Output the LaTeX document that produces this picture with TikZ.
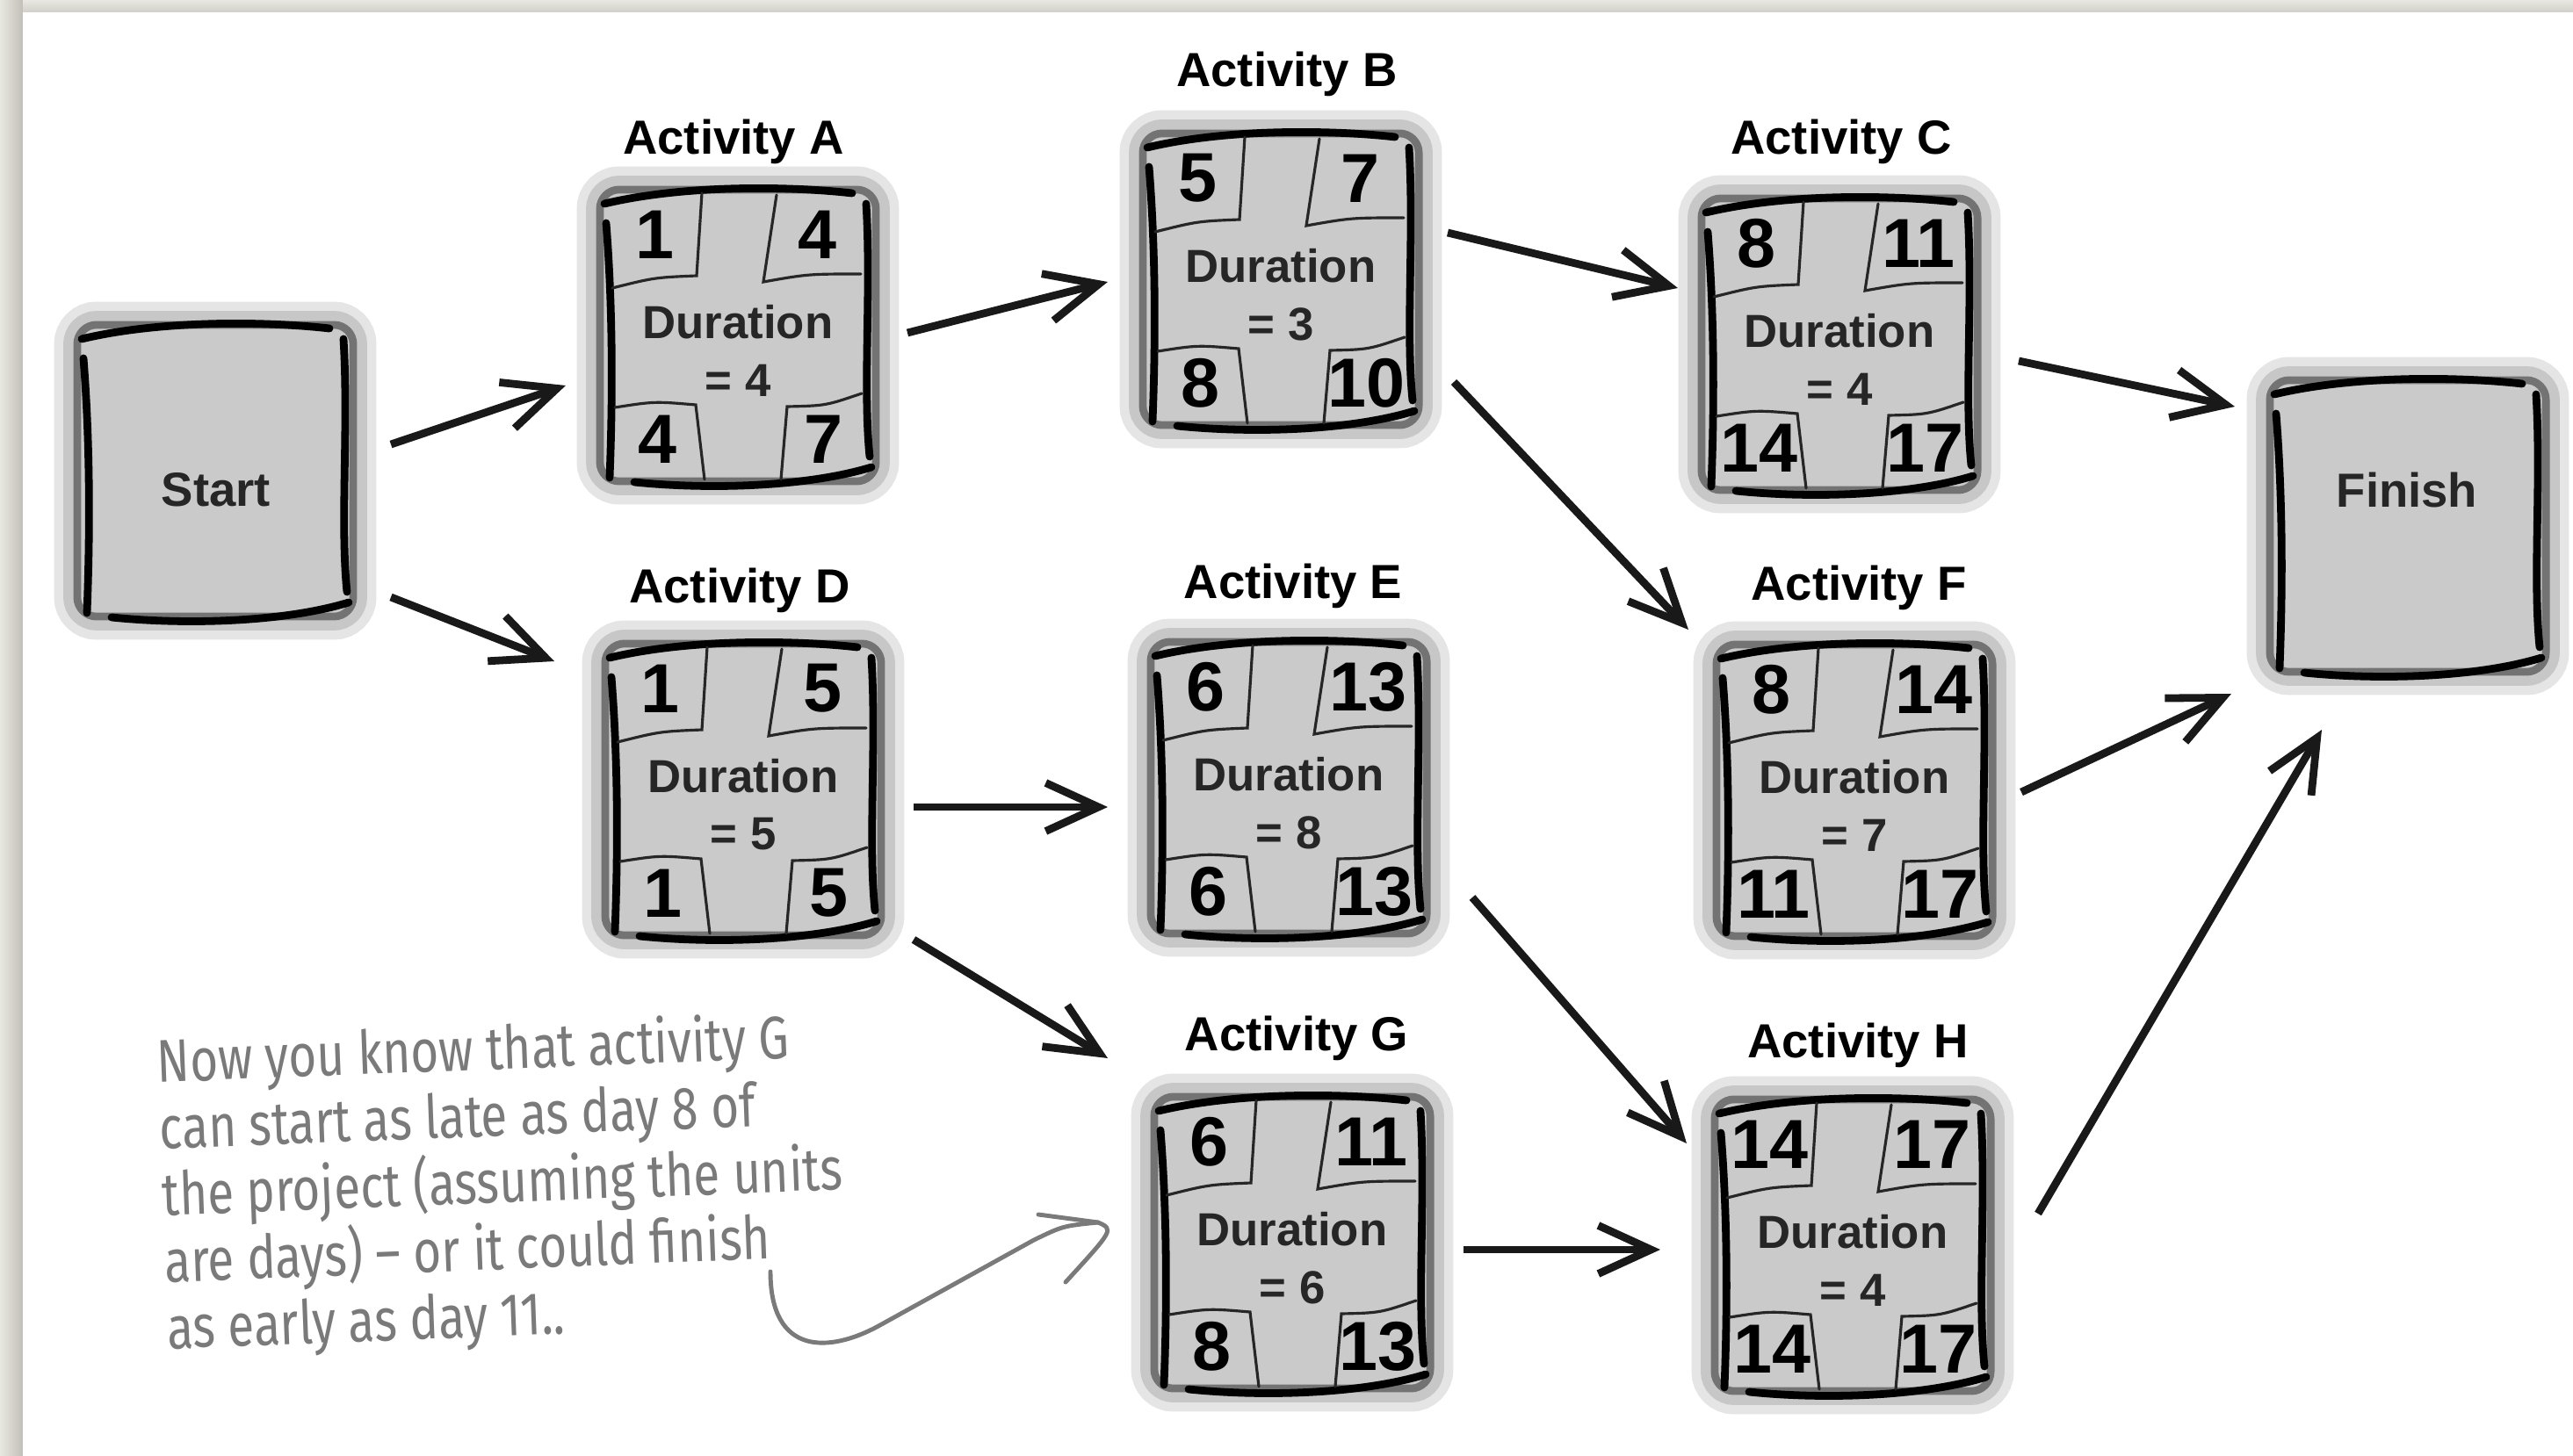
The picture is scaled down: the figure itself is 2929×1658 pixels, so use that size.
\documentclass[tikz,border=0pt]{standalone}
\usepackage{fontspec}
\setmainfont{Liberation Sans}
\newfontfamily\handfont[FakeStretch=0.8]{Fira Sans}
\usetikzlibrary{calc,arrows.meta}
\definecolor{beige}{HTML}{E9E7E1}
\definecolor{beigedark}{HTML}{C2BFB8}
\definecolor{boxgray}{HTML}{CACACA}
\definecolor{handgray}{HTML}{7A7A7A}
\tikzset{
  sketchnode/.style={minimum width=3.14cm, minimum height=3.32cm, fill=boxgray, rounded corners=0.22cm,
    draw=black!55, line width=2.5pt,
    preaction={draw=black!10, line width=15pt, rounded corners=0.22cm},
    preaction={draw=black!22, line width=9pt, rounded corners=0.22cm}},
  sk/.style={line width=2.5pt, line cap=round, black},
  notch/.style={line width=0.9pt, black!85, line cap=round},
  lab/.style={font=\fontsize{15.5pt}{18pt}\selectfont\bfseries, inner sep=0pt},
  endtxt/.style={font=\fontsize{15.5pt}{18pt}\selectfont\bfseries, inner sep=0pt, text=black!85},
  num/.style={font=\fontsize{22.5pt}{24pt}\selectfont\bfseries, inner sep=0pt},
  dur/.style={font=\fontsize{15pt}{17pt}\selectfont\bfseries, inner sep=0pt, text=black!85},
  arr/.style={line width=2.5pt, black!90, -{Straight Barb[length=0.6cm,width=0.55cm]}},
  notearr/.style={line width=1.4pt, handgray, line cap=round, line join=round},
  note/.style={font=\handfont\fontsize{19.5pt}{21.6pt}\selectfont, text=handgray, align=left, inner sep=0pt}
}
\newcommand{\sketchbox}[1]{%
  \draw[sk] ($(#1)+(-150,-128)$) .. controls ($(#1)+(-143,-40)$) and ($(#1)+(-142,60)$) .. ($(#1)+(-146,162)$);
  \draw[sk] ($(#1)+(-152,-150)$) .. controls ($(#1)+(-60,-172)$) and ($(#1)+(60,-170)$) .. ($(#1)+(130,-162)$);
  \draw[sk] ($(#1)+(146,-150)$) .. controls ($(#1)+(152,-50)$) and ($(#1)+(142,60)$) .. ($(#1)+(150,138)$);
  \draw[sk] ($(#1)+(-118,167)$) .. controls ($(#1)+(-30,176)$) and ($(#1)+(80,172)$) .. ($(#1)+(152,150)$);
}
\newcommand{\notches}[1]{%
  \draw[notch] ($(#1)+(-41,-162)$) -- ($(#1)+(-47,-68)$) .. controls ($(#1)+(-95,-66)$) .. ($(#1)+(-143,-54)$);
  \draw[notch] ($(#1)+(44,-160)$) -- ($(#1)+(29,-61)$) .. controls ($(#1)+(80,-70)$) .. ($(#1)+(140,-70)$);
  \draw[notch] ($(#1)+(-140,82)$) .. controls ($(#1)+(-95,75)$) .. ($(#1)+(-48,79)$) -- ($(#1)+(-38,164)$);
  \draw[notch] ($(#1)+(141,66)$) .. controls ($(#1)+(100,80)$) .. ($(#1)+(56,81)$) -- ($(#1)+(49,164)$);
}
\newcommand{\actnums}[6]{%
  \node[num] (#1-es) at ($(#1)+(-95,-115)$) {#2};
  \node[num] (#1-ef) at ($(#1)+(90,-115)$) {#3};
  \node[num] (#1-ls) at ($(#1)+(-92,118)$) {#4};
  \node[num] (#1-lf) at ($(#1)+(97,118)$) {#5};
  \node[dur] (#1-d) at ($(#1)+(0,-15)$) {Duration};
  \node[dur] (#1-n) at ($(#1)+(0,51)$) {= #6};
}
\begin{document}
\begin{tikzpicture}[x=0.01cm, y=-0.01cm]
\useasboundingbox (0,0) rectangle (2929,1658);
% background
\fill[beige] (0,0) rectangle (2929,1658);
\shade[left color=beige, right color=beigedark] (0,0) rectangle (26,1658);
\shade[top color=beige, bottom color=beigedark!60!beige] (26,0) rectangle (2929,14);
\fill[white] (26,14) rectangle (2929,1658);

% boxes
\node[sketchnode] (Start) at (245,536) {};
\node[sketchnode] (Finish) at (2741,599) {};
\node[sketchnode] (A) at (840,382) {};
\node[sketchnode] (B) at (1458,318) {};
\node[sketchnode] (C) at (2094,392) {};
\node[sketchnode] (D) at (846,899) {};
\node[sketchnode] (E) at (1467,897) {};
\node[sketchnode] (F) at (2111,900) {};
\node[sketchnode] (G) at (1471,1415) {};
\node[sketchnode] (H) at (2109,1418) {};

\foreach \n in {Start,Finish,A,B,C,D,E,F,G,H} {\sketchbox{\n}}
\foreach \n in {A,B,C,D,E,F,G,H} {\notches{\n}}

\node[endtxt] (Start-t) at (246,558) {Start};
\node[endtxt] (Finish-t) at (2740,558) {Finish};

\actnums{A}{1}{4}{4}{7}{4}
\actnums{B}{5}{7}{8}{10}{3}
\actnums{C}{8}{11}{14}{17}{4}
\actnums{D}{1}{5}{1}{5}{5}
\actnums{E}{6}{13}{6}{13}{8}
\actnums{F}{8}{14}{11}{17}{7}
\actnums{G}{6}{11}{8}{13}{6}
\actnums{H}{14}{17}{14}{17}{4}

% activity labels
\node[lab] (A-lab) at (835,161) {Activity A};
\node[lab] (B-lab) at (1465,84) {Activity B};
\node[lab] (C-lab) at (2096,161) {Activity C};
\node[lab] (D-lab) at (842,672) {Activity D};
\node[lab] (E-lab) at (1472,667) {Activity E};
\node[lab] (F-lab) at (2116,669) {Activity F};
\node[lab] (G-lab) at (1476,1182) {Activity G};
\node[lab] (H-lab) at (2115,1190) {Activity H};

% connectors
\draw[arr] ($(Start)+(200,-30)$) -- ($(A)+(-196,57)$);
\draw[arr] ($(Start)+(200,144)$) -- ($(D)+(-215,-146)$);
\draw[arr] ($(A)+(193,-3)$) -- ($(B)+(-197,3)$);
\draw[arr] ($(B)+(190,-53)$) -- ($(C)+(-184,-64)$);
\draw[arr] ($(B)+(197,117)$) -- ($(F)+(-189,-183)$);
\draw[arr] ($(C)+(204,19)$) -- ($(Finish)+(-197,-136)$);
\draw[arr] ($(D)+(194,20)$) -- ($(E)+(-206,22)$);
\draw[arr] ($(D)+(194,171)$) -- ($(G)+(-210,-210)$);
\draw[arr] ($(E)+(209,125)$) -- ($(H)+(-189,-116)$);
\draw[arr] ($(F)+(190,2)$) -- ($(Finish)+(-201,191)$);
\draw[arr] ($(G)+(195,8)$) -- ($(H)+(-219,5)$);
\draw[arr] ($(H)+(211,-36)$) -- ($(Finish)+(-98,232)$);

% note
\node[note, rotate=2.2] (note) at (572,1350) {Now you know that activity G\\can start as late as day 8 of\\the project (assuming the units\\are days) \textendash{} or it could finish\\as early as day 11..};
\coordinate (n1) at (877,1448);
\coordinate (n2) at ($(G)+(-221,-23)$);
\draw[notearr] (n1) .. controls (877,1545) and (945,1540) .. (1000,1510)
  -- (1177,1412) .. controls (1210,1396) .. (n2);
\draw[notearr] (1182,1383) -- (n2) .. controls (1268,1400) .. (1213,1460);
\end{tikzpicture}
\end{document}
